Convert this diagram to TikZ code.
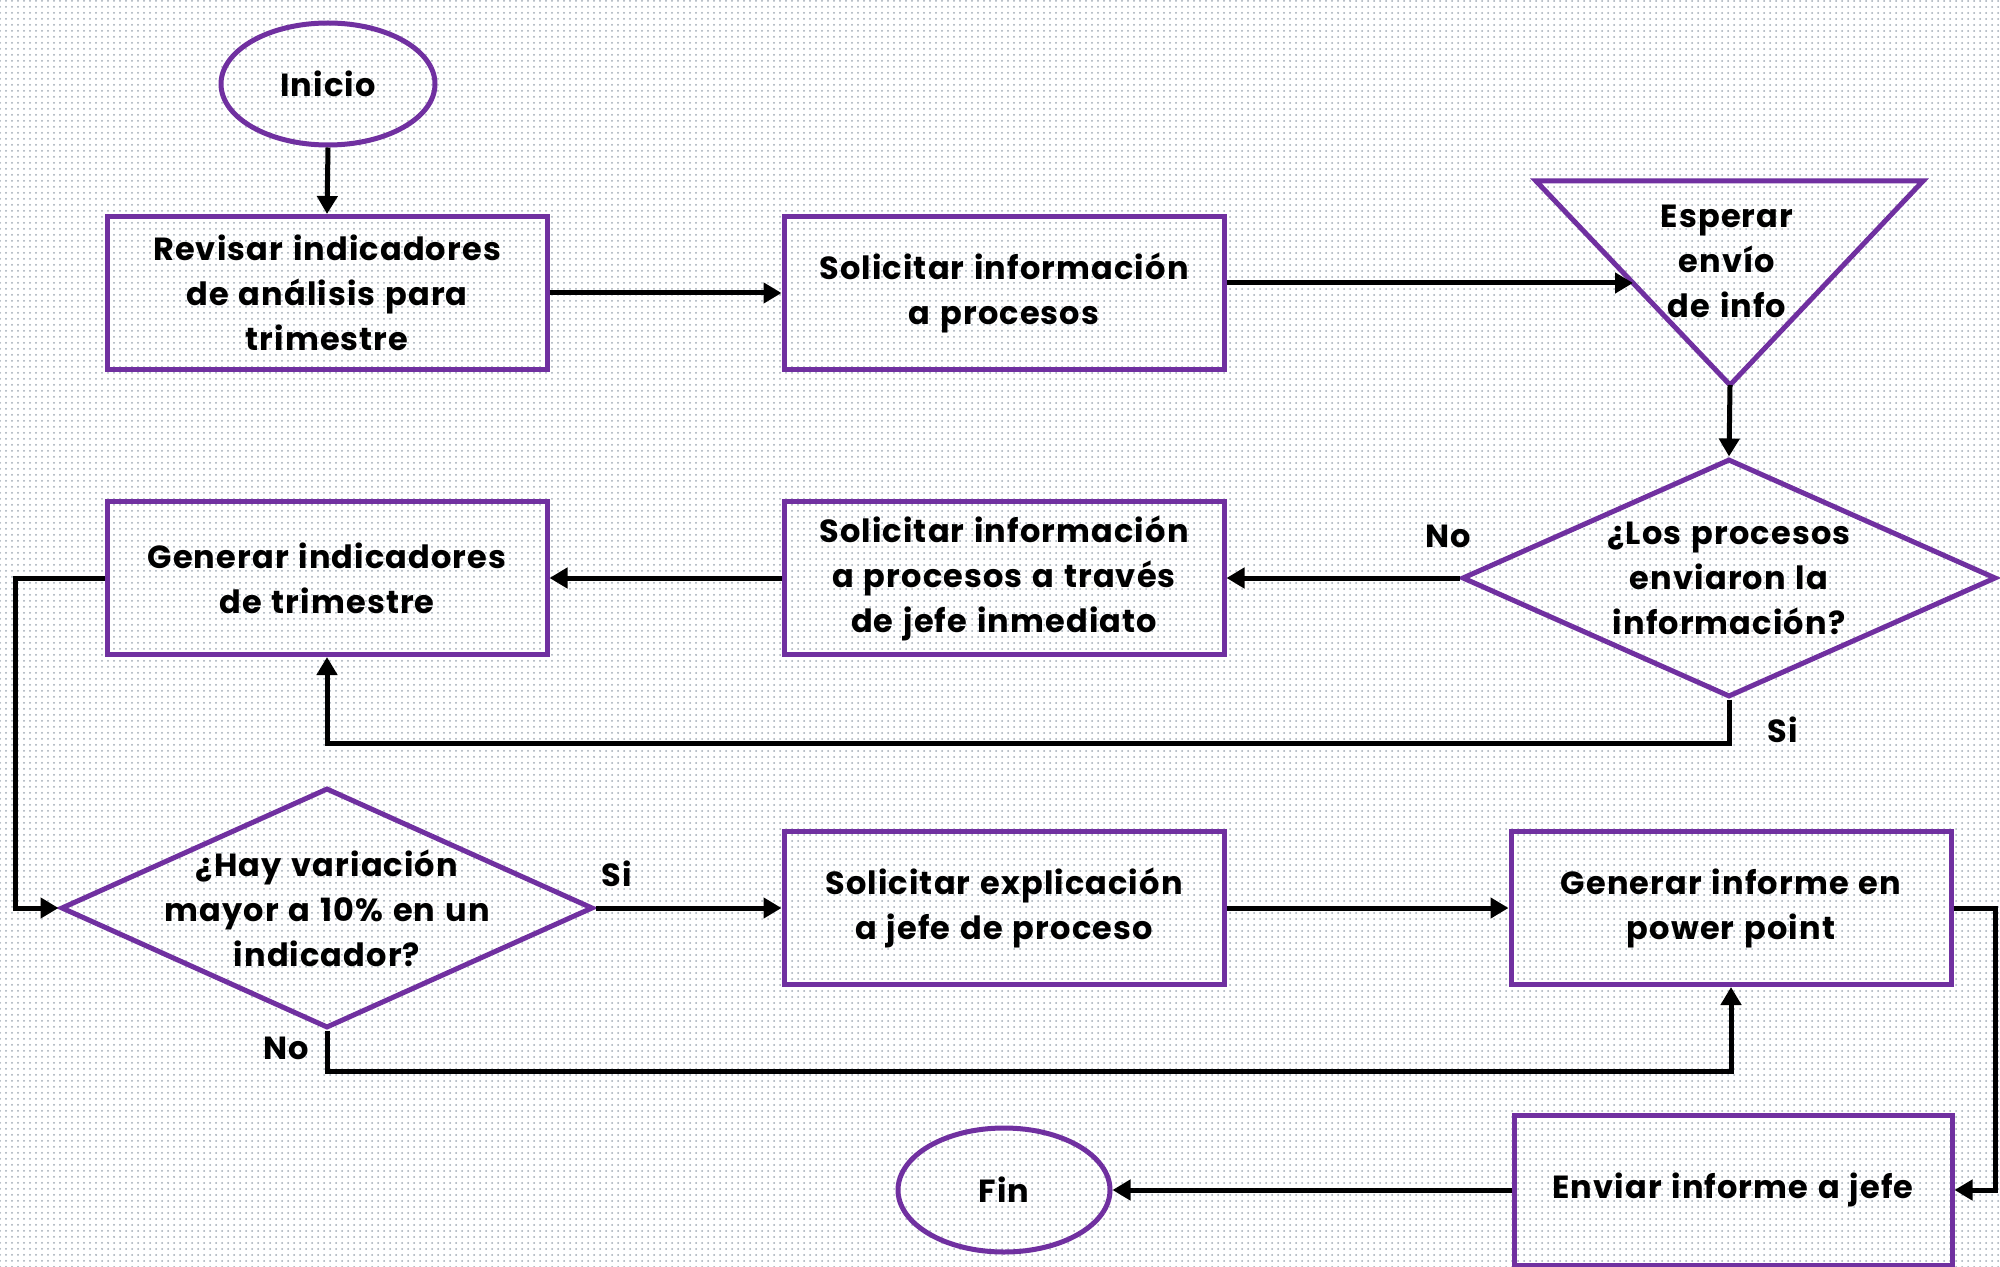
\documentclass[tikz,border=0pt]{standalone}
\usepackage{fontspec}
\setmainfont{Poppins}[LetterSpace=3.5,WordSpace=1.25]
\usetikzlibrary{arrows.meta,shapes.geometric,patterns}
\definecolor{purp}{HTML}{7030A0}
\definecolor{dotc}{HTML}{A0AAB5}
\tikzset{
  base/.style={draw=purp,line width=2.5pt,inner sep=0pt,font=\fontsize{16}{22.5}\selectfont\bfseries,align=center},
  procbox/.style={base,rectangle,minimum width=220pt,minimum height=76.5pt},
  term/.style={base,ellipse,minimum width=107pt,minimum height=61pt},
  decis/.style={base,diamond,minimum width=267pt,minimum height=119pt},
  txt/.style={inner sep=0pt,font=\fontsize{16}{22.5}\selectfont\bfseries,align=center},
  conn/.style={line width=2.5pt,-{Triangle[length=9pt,width=10pt]}}
}
\begin{document}
\begin{tikzpicture}[x=0.5pt,y=-0.5pt]
\fill[white] (0,0) rectangle (2000,1267);
\fill[pattern=dots,pattern color=dotc] (0,0) rectangle (2000,1267);
\useasboundingbox (0,0) rectangle (2000,1267);

\node[term] (ini) at (328,84) {Inicio};
\node[procbox] (rev) at (327,293) {Revisar indicadores\\de análisis para\\trimestre};
\node[procbox] (sol1) at (1004,293) {Solicitar información\\a procesos};
\coordinate (tl) at (1536,181);
\coordinate (tr) at (1923,181);
\coordinate (tapex) at (1730,385);
\draw[draw=purp,line width=2.5pt,line join=miter] (tl) -- (tr) -- (tapex) -- cycle;
\node[txt] (esp) at (1727,261) {Esperar\\envío\\de info};
\coordinate (wl) at (1633,283);

\node[decis] (d1) at (1729,578) {};
\node[txt] (d1t) at (d1) {¿Los procesos\\enviaron la\\información?};
\node[procbox] (gen) at (327,578) {Generar indicadores\\de trimestre};
\node[procbox] (sol2) at (1004,578) {Solicitar información\\a procesos a través\\de jefe inmediato};

\node[decis,minimum width=266pt,minimum height=120pt] (d2) at (327,908) {};
\node[txt] (d2t) at (d2) {¿Hay variación\\mayor a 10\% en un\\indicador?};
\node[procbox] (sol3) at (1004,908) {Solicitar explicación\\a jefe de proceso};
\node[procbox] (inf) at (1731,908) {Generar informe en\\power point};
\node[procbox,minimum width=219pt,minimum height=75pt] (env) at (1733,1190) {Enviar informe a jefe};
\node[term,minimum width=106pt,minimum height=62pt] (fin) at (1004,1190) {Fin};

\node[txt] (lno1) at (1448,536) {No};
\node[txt] (lsi1) at (1783,730) {Si};
\node[txt] (lsi2) at (617,874) {Si};
\node[txt] (lno2) at (286,1048) {No};

\draw[conn] (ini.south) -- (rev.north);
\draw[conn] (rev.east) -- (sol1.west);
\draw[conn] (sol1.east |- wl) -- (wl);
\draw[conn] (tapex) -- (d1.north);
\draw[conn] (d1.west) -- (sol2.east);
\draw[conn] (sol2.west) -- (gen.east);
\draw[conn] (d1.south) -- ++(0,44) -| (gen.south);
\draw[conn] (gen.west) -- ++(-89,0) |- (d2.west);
\draw[conn] (d2.east) -- (sol3.west);
\draw[conn] (sol3.east) -- (inf.west);
\draw[conn] (d2.south) -- ++(0,41) -| (inf.south);
\draw[conn] (inf.east) -- ++(42,0) |- (env.east);
\draw[conn] (env.west) -- (fin.east);
\end{tikzpicture}
\end{document}
